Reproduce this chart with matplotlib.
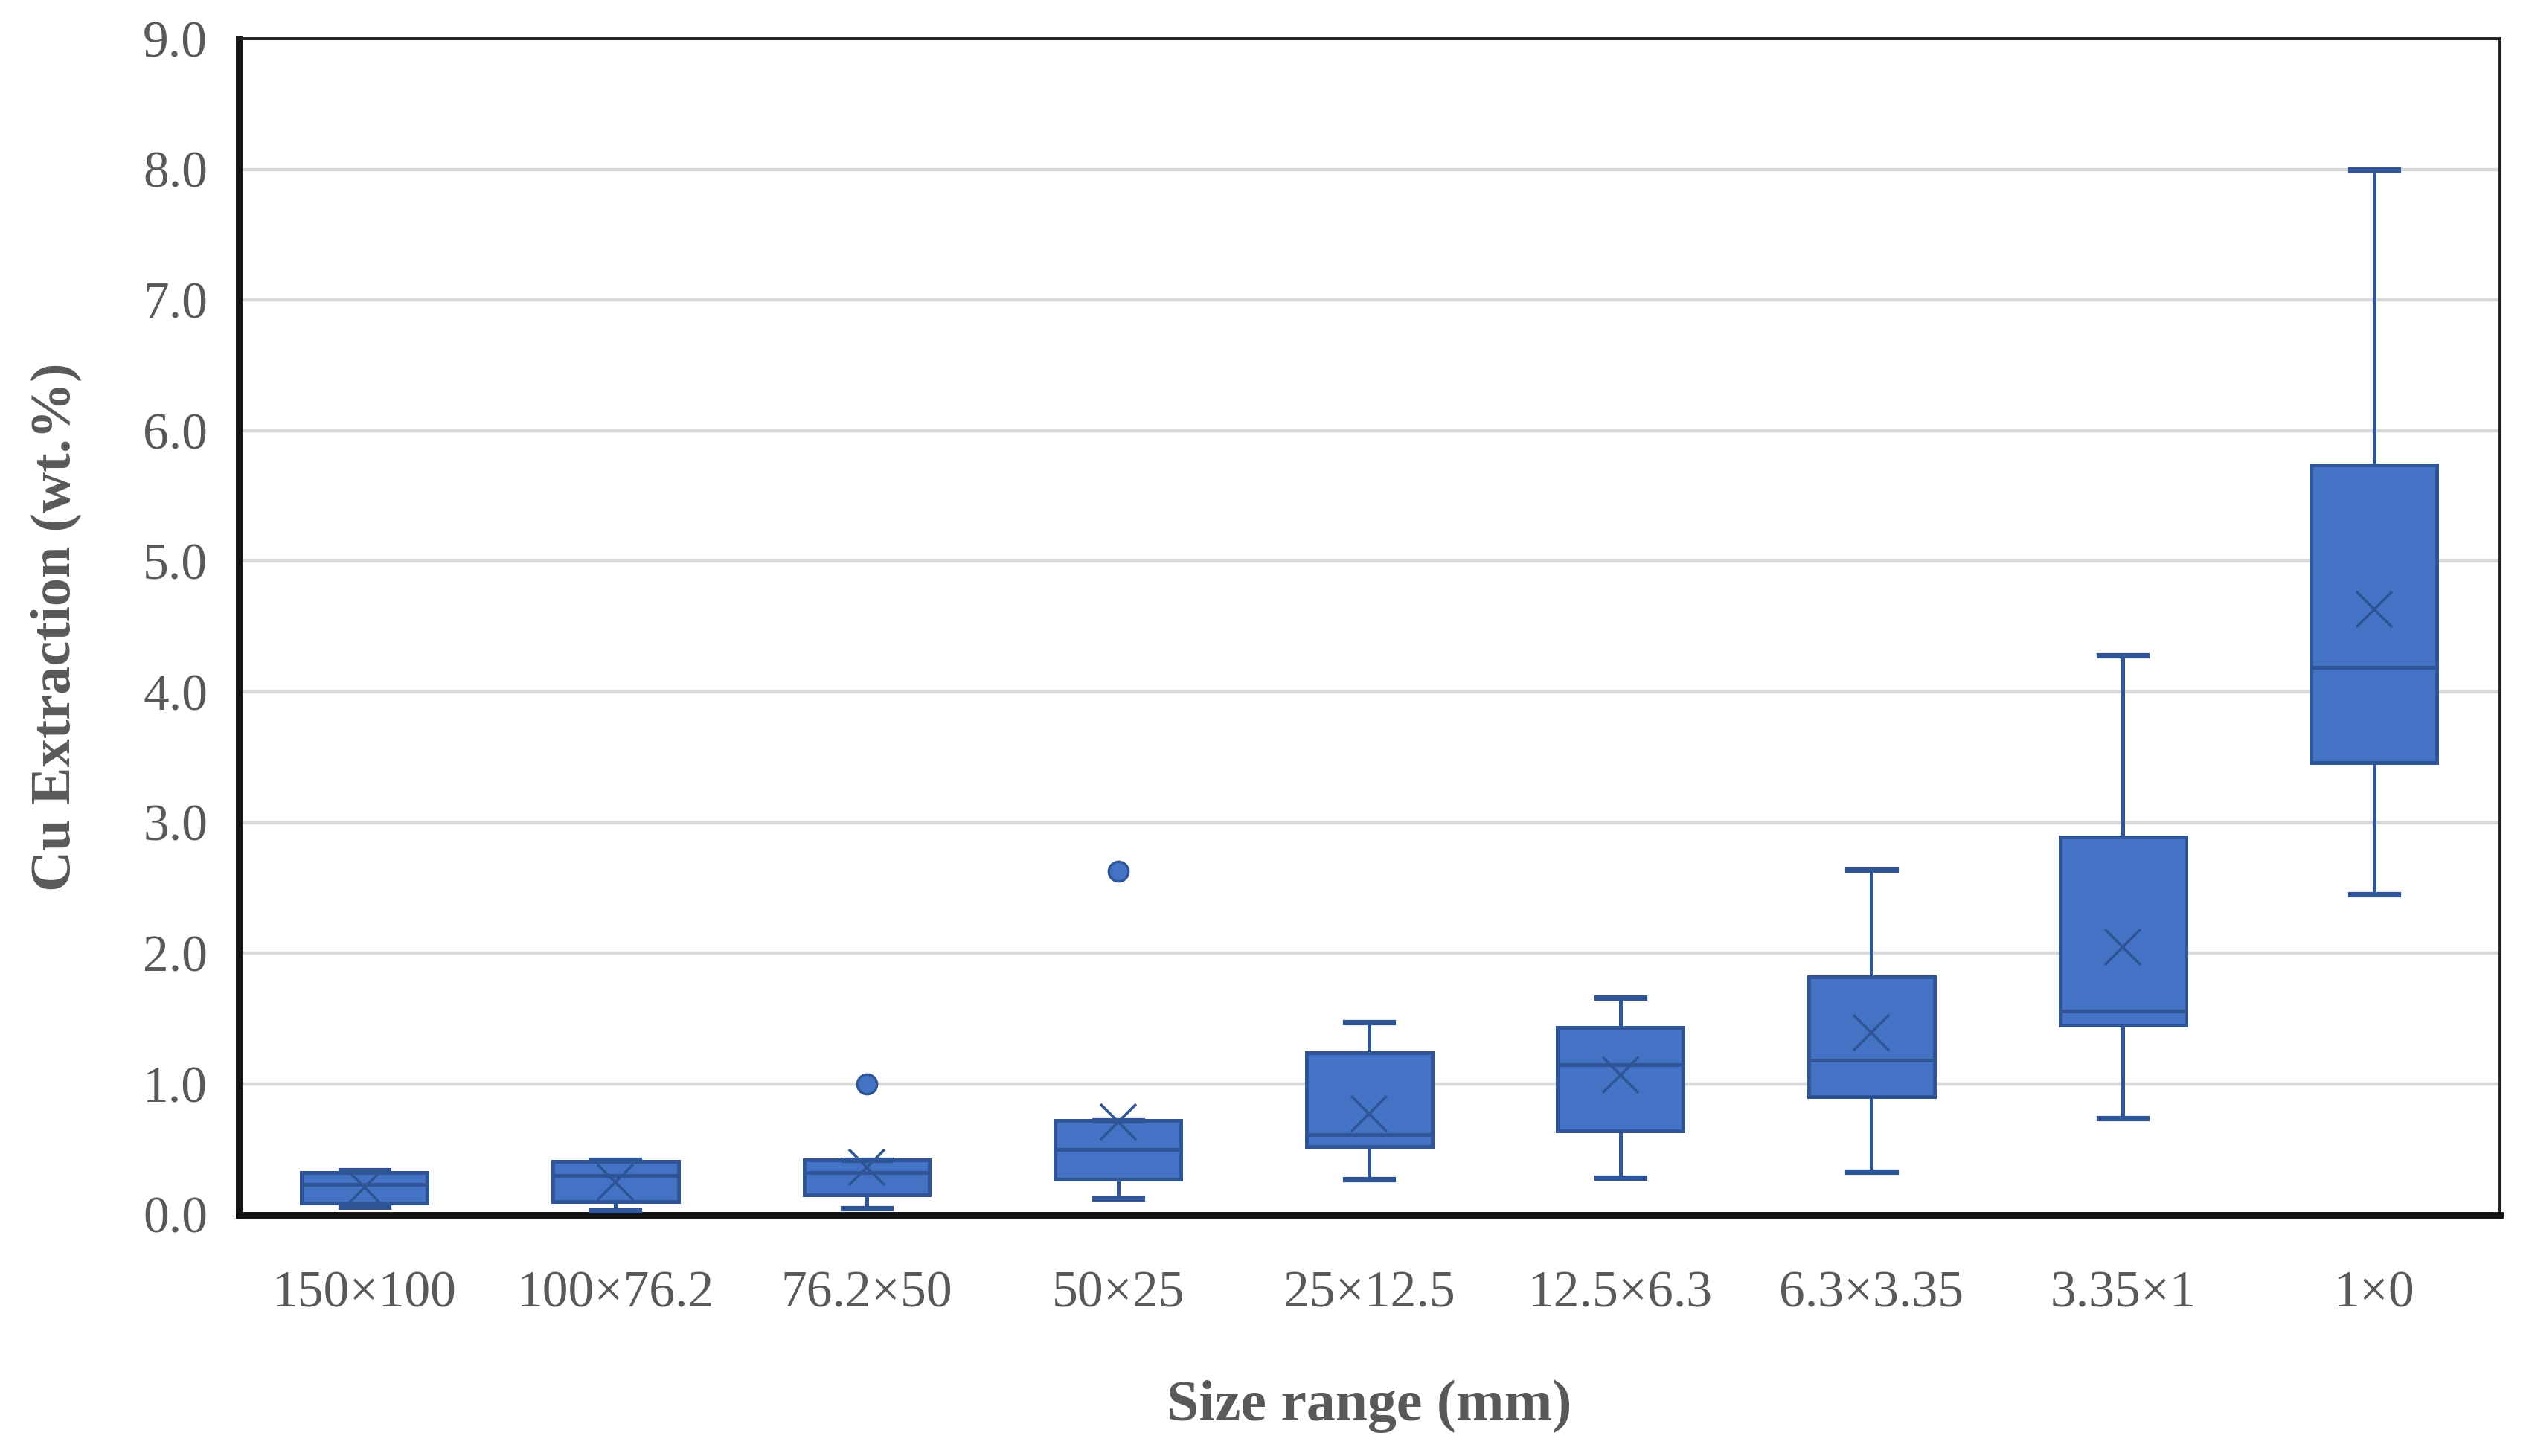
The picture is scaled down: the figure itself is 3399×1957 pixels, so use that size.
import matplotlib
matplotlib.use("Agg")
import matplotlib.pyplot as plt

# size classes (mm)
size_ranges = ["150×100", "100×76.2", "76.2×50", "50×25", "25×12.5",
               "12.5×6.3", "6.3×3.35", "3.35×1", "1×0"]

# box statistics (Cu extraction, wt.%)
whisker_low = [0.06, 0.03, 0.05, 0.12, 0.27, 0.28, 0.33, 0.74, 2.45]
q1 = [0.09, 0.10, 0.15, 0.27, 0.52, 0.64, 0.90, 1.45, 3.46]
median = [0.23, 0.30, 0.32, 0.50, 0.61, 1.15, 1.18, 1.56, 4.19]
q3 = [0.32, 0.41, 0.42, 0.72, 1.24, 1.43, 1.82, 2.89, 5.74]
whisker_high = [0.34, 0.42, 0.42, 0.72, 1.47, 1.66, 2.64, 4.28, 8.00]
mean = [0.21, 0.25, 0.36, 0.71, 0.77, 1.07, 1.39, 2.05, 4.63]
outliers = [[], [], [1.00], [2.63], [], [], [], [], []]

fill = "#4472C4"
edge = "#2F5597"
grey = "#595959"

plt.rcParams["font.family"] = ["Liberation Serif", "DejaVu Serif"]

stats = []
for i, name in enumerate(size_ranges):
    stats.append({"label": name, "whislo": whisker_low[i], "q1": q1[i],
                  "med": median[i], "q3": q3[i], "whishi": whisker_high[i],
                  "mean": mean[i], "fliers": outliers[i]})

fig = plt.figure(figsize=(16.995, 9.785), dpi=200)
ax = fig.add_axes([0.0944, 0.1658, 0.894, 0.8076])

ax.bxp(stats, positions=range(len(size_ranges)), widths=0.5,
       patch_artist=True, showmeans=True,
       boxprops=dict(facecolor=fill, edgecolor=edge, linewidth=1.8),
       medianprops=dict(color=edge, linewidth=1.8),
       whiskerprops=dict(color=edge, linewidth=1.8),
       capprops=dict(color=edge, linewidth=2.6),
       capwidths=0.19,
       meanprops=dict(marker="x", markersize=17, markeredgecolor=edge,
                      markeredgewidth=1.3),
       flierprops=dict(marker="o", markersize=9.5, markerfacecolor=fill,
                       markeredgecolor=edge, markeredgewidth=1.2),
       zorder=3)

ax.set_xlim(-0.5, len(size_ranges) - 0.5)
ax.set_ylim(0, 9)
ax.set_yticks([i * 1.0 for i in range(10)])
ax.set_yticklabels([f"{i:.1f}" for i in range(10)])
ax.yaxis.grid(True, color="#D9D9D9", linewidth=1.6, zorder=0)
ax.set_axisbelow(True)

ax.tick_params(axis="both", length=0, labelsize=25, labelcolor=grey)
ax.tick_params(axis="x", pad=27)
ax.tick_params(axis="y", pad=15)

for side in ["top", "right"]:
    ax.spines[side].set_linewidth(1.4)
    ax.spines[side].set_color("#222222")
for side in ["left", "bottom"]:
    ax.spines[side].set_linewidth(3.2)
    ax.spines[side].set_color("#111111")

fig.text(0.5415, 0.034, "Size range (mm)", ha="center", va="center",
         fontsize=28, fontweight="bold", color=grey)
fig.text(0.0223, 0.5696, "Cu Extraction (wt.%)", ha="center", va="center",
         rotation=90, fontsize=27.5, fontweight="bold", color=grey)

fig.savefig("out.png", dpi=200)
